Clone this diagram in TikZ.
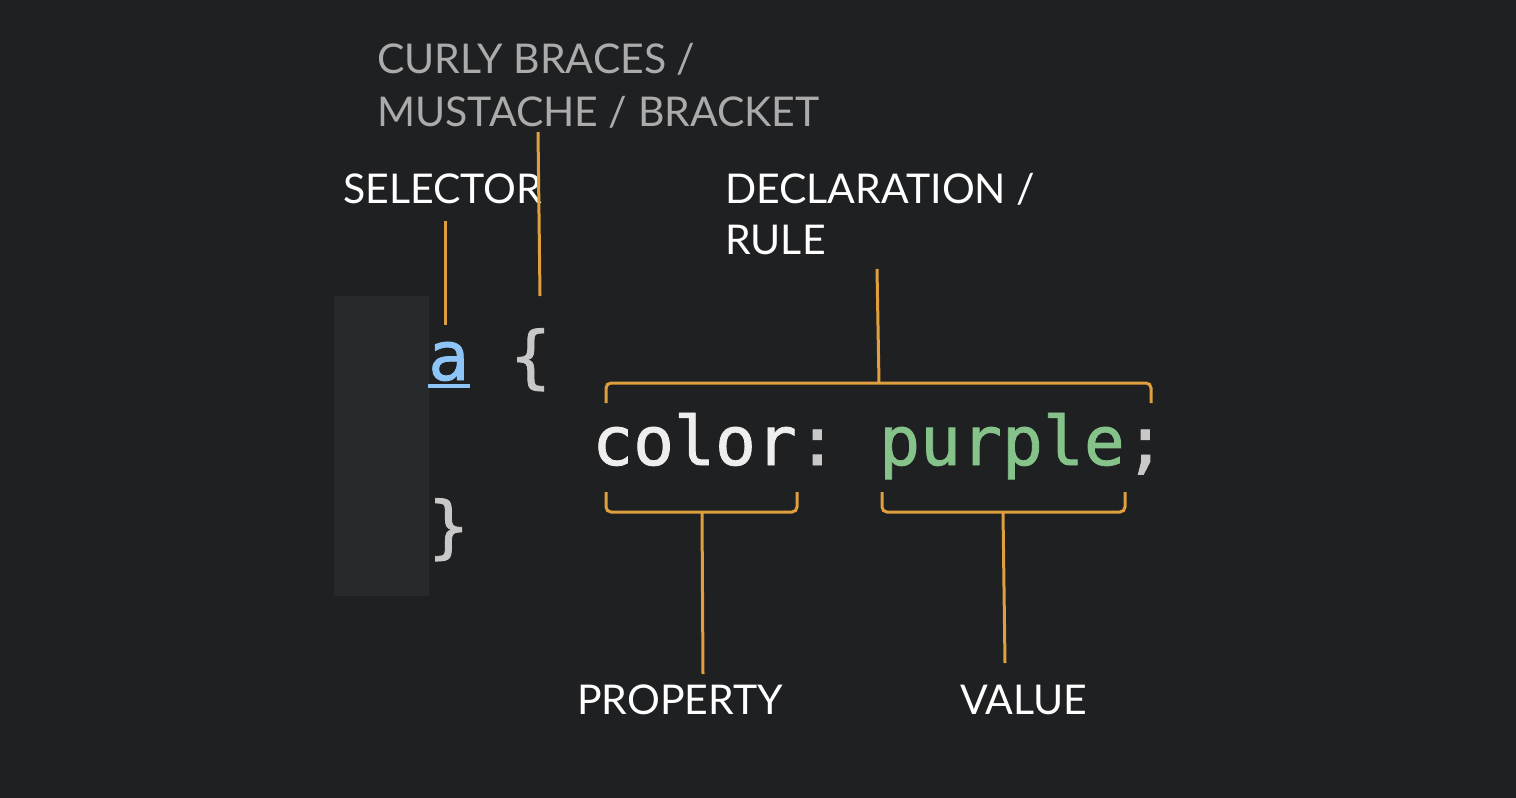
\documentclass[tikz,border=0pt]{standalone}
\usepackage{fontspec}
\setmainfont{Lato}
\newfontfamily\codefont[FakeBold=1.2]{DejaVu Sans Mono}
\definecolor{bg}{HTML}{1F2022}
\definecolor{gutter}{HTML}{272A2D}
\definecolor{accent}{HTML}{E09F3E}
\definecolor{selblue}{HTML}{8EC5F8}
\definecolor{codewhite}{HTML}{EEEEEE}
\definecolor{punct}{HTML}{C8C8C8}
\definecolor{valgreen}{HTML}{86C38A}
\definecolor{dimlabel}{HTML}{ABABAB}
\tikzset{
  lbl/.style={anchor=base west, inner sep=0pt, text=white, font=\fontsize{41}{52}\selectfont},
  dimlbl/.style={lbl, text=dimlabel, align=left},
  code/.style={anchor=base west, inner sep=0pt, font=\codefont\fontsize{68}{85}\selectfont},
  conn/.style={draw=accent, line width=3pt},
  brk/.style={draw=accent, line width=3pt, rounded corners=5pt}
}
\begin{document}
\begin{tikzpicture}[x=1pt,y=-1pt]
\fill[bg] (0,0) rectangle (1516,798);
\useasboundingbox (0,0) rectangle (1516,798);
\fill[gutter] (334,296) rectangle (429,596);
% code
\node[code, text=selblue] (sela) at (428,380) {a};
\draw[selblue, line width=4pt] (428,386) -- (470,386);
\node[code, text=punct] (ob) at (510,380) {\{};
\node[code, text=codewhite] (prop) at (592,465) {color\textcolor{punct}{:}};
\node[code, text=valgreen] (val) at (879,465) {purple\textcolor{punct}{;}};
\node[code, text=punct] (cb) at (428,550) {\}};
% labels
\node[dimlbl] (curly) at (377,73) {CURLY BRACES /};
\node[dimlbl] (curly2) at (377,126) {MUSTACHE / BRACKET};
\node[lbl] (sel) at (343,203) {SELECTOR};
\node[lbl] (decl) at (725,203) {DECLARATION /};
\node[lbl] (decl2) at (725,254) {RULE};
\node[lbl] (plbl) at (577,714) {PROPERTY};
\node[lbl] (vlbl) at (960,714) {VALUE};
% coordinates
\coordinate (selTop) at (445,221);
\coordinate (selBot) at (445,325);
\coordinate (cbTop) at (538,132);
\coordinate (cbBot) at (540,296);
\coordinate (dTop) at (877,269);
\coordinate (dBot) at (879,383);
\coordinate (pTop) at (702,512);
\coordinate (pBot) at (703,674);
\coordinate (vTop) at (1003,512);
\coordinate (vBot) at (1005,663);
% connectors
\draw[conn] (selTop) -- (selBot);
\draw[conn] (cbTop) -- (cbBot);
\draw[conn] (dTop) -- (dBot);
\draw[conn] (pTop) -- (pBot);
\draw[conn] (vTop) -- (vBot);
% brackets
\draw[brk] (606,403) -- (606,383) -- (1151,383) -- (1151,403);
\draw[brk] (606,492) -- (606,512) -- (797,512) -- (797,492);
\draw[brk] (882,492) -- (882,512) -- (1125,512) -- (1125,492);
\end{tikzpicture}
\end{document}
